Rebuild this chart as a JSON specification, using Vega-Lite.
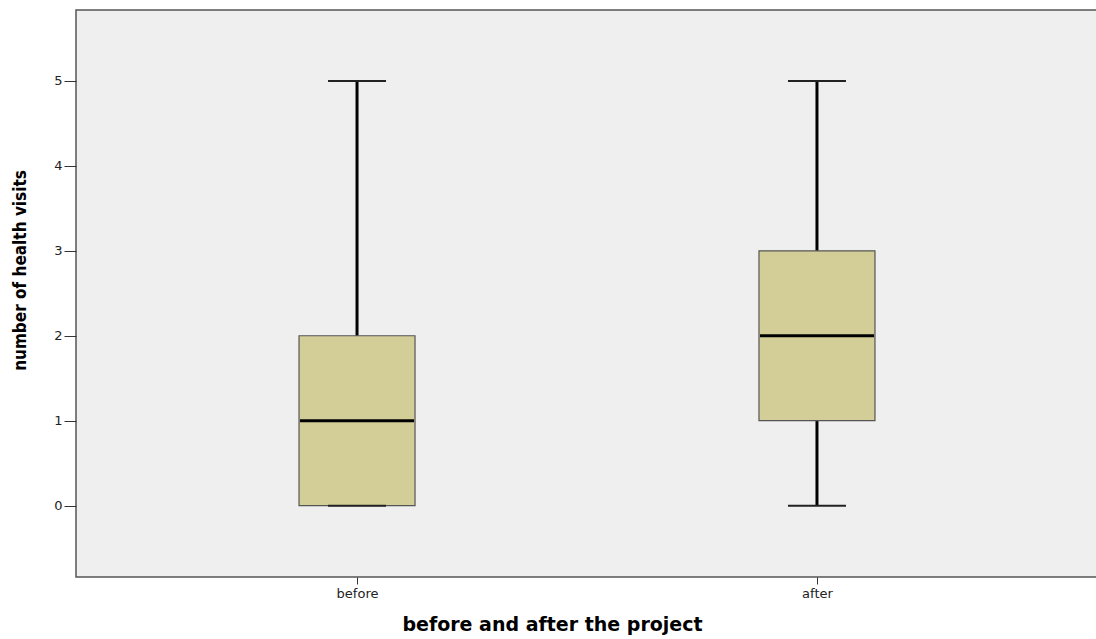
{
  "$schema": "https://vega.github.io/schema/vega-lite/v6.json",
  "autosize": {"type": "none"},
  "padding": {"left": 76, "top": 10, "right": 0, "bottom": 62},
  "width": 1022,
  "height": 567,
  "background": "white",
  "config": {
    "view": {"fill": "#efefef", "stroke": "#555555", "strokeWidth": 1.5},
    "axis": {"grid": false, "labelFont": "DejaVu Sans", "labelColor": "#222222", "tickColor": "#333333", "domain": false}
  },
  "data": {
    "values": [
      {"period": "before", "min": 0, "q1": 0, "median": 1, "q3": 2, "max": 5},
      {"period": "after", "min": 0, "q1": 1, "median": 2, "q3": 3, "max": 5}
    ]
  },
  "encoding": {
    "x": {
      "field": "period",
      "type": "nominal",
      "sort": ["before", "after"],
      "scale": {"type": "point", "padding": 0.611},
      "axis": {
        "title": "before and after the project",
        "labelAngle": 0,
        "labelFontSize": 13,
        "labelPadding": 3,
        "tickSize": 7,
        "titleFont": "DejaVu Sans",
        "titleFontSize": 19,
        "titleFontWeight": "bold",
        "titleColor": "#000000",
        "titleX": 476,
        "titleY": 47,
        "titleAlign": "center",
        "titleBaseline": "middle"
      }
    }
  },
  "layer": [
    {
      "mark": {"type": "rule", "color": "#000000", "strokeWidth": 3},
      "encoding": {
        "y": {
          "field": "min",
          "type": "quantitative",
          "scale": {"domain": [-0.84, 5.835], "nice": false, "zero": false},
          "axis": {
            "title": "number of health visits",
            "values": [0, 1, 2, 3, 4, 5],
            "format": "d",
            "labelFontSize": 13,
            "tickSize": 12,
            "labelPadding": 2,
            "titleFont": "Liberation Sans Narrow, DejaVu Sans Condensed, Liberation Sans",
            "titleFontSize": 17,
            "titleFontWeight": "bold",
            "titleColor": "#000000",
            "titleAngle": -90,
            "titleX": -56,
            "titleY": 260,
            "titleAlign": "center",
            "titleBaseline": "middle"
          }
        },
        "y2": {"field": "max"}
      }
    },
    {
      "mark": {"type": "bar", "size": 116, "fill": "#d3ce98", "stroke": "#555555", "strokeWidth": 1.2},
      "encoding": {
        "y": {"field": "q1", "type": "quantitative"},
        "y2": {"field": "q3"}
      }
    },
    {
      "mark": {"type": "tick", "size": 114, "thickness": 3, "color": "#000000", "opacity": 1},
      "encoding": {"y": {"field": "median", "type": "quantitative"}}
    },
    {
      "mark": {"type": "tick", "size": 58, "thickness": 2, "color": "#222222", "opacity": 1},
      "encoding": {"y": {"field": "max", "type": "quantitative"}}
    },
    {
      "mark": {"type": "tick", "size": 58, "thickness": 2, "color": "#222222", "opacity": 1},
      "encoding": {"y": {"field": "min", "type": "quantitative"}}
    }
  ]
}
